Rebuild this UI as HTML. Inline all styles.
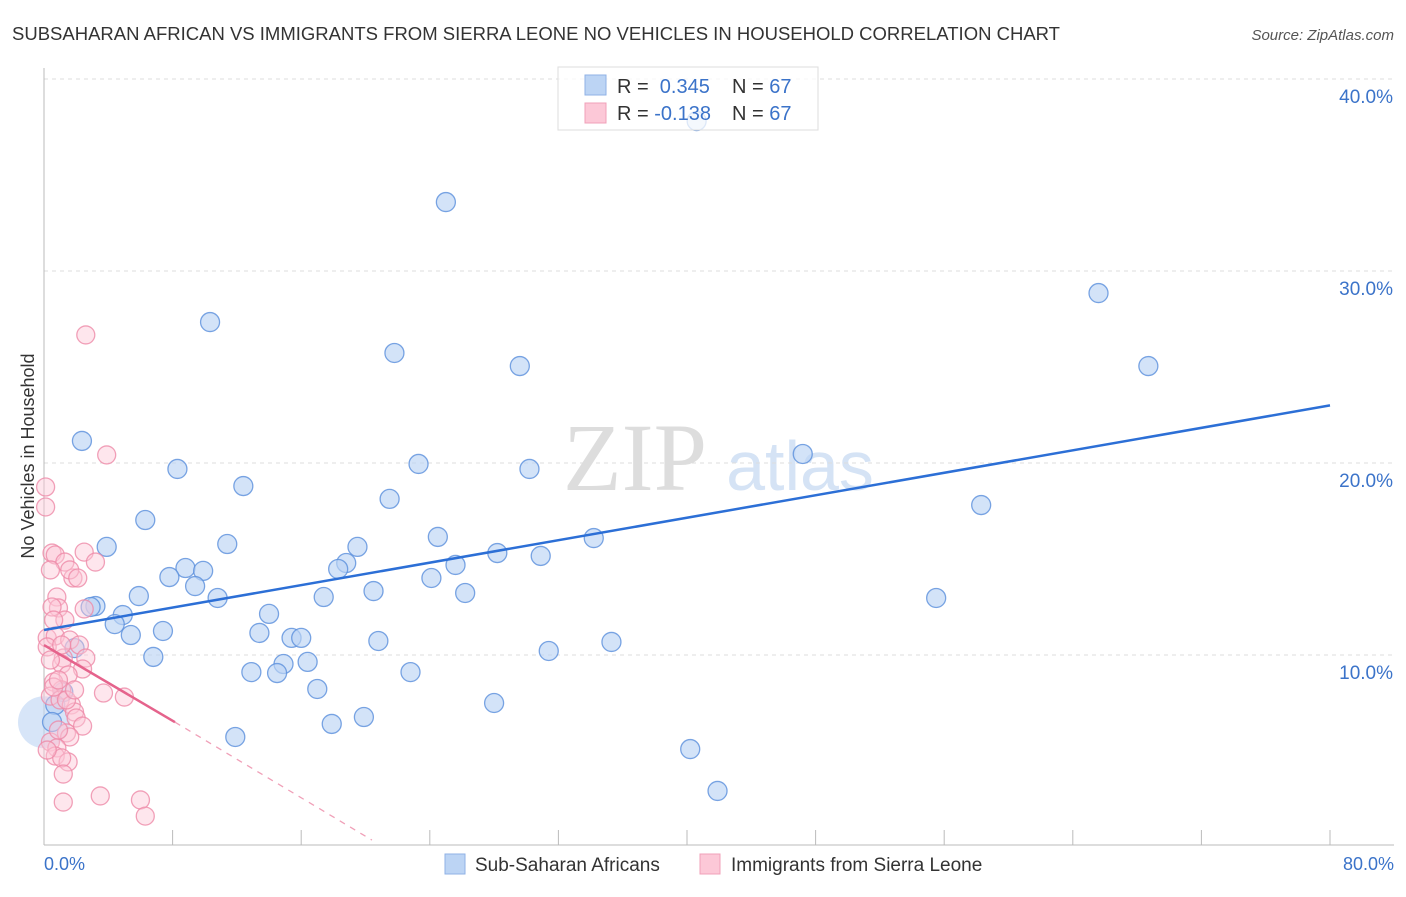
<!DOCTYPE html>
<html><head><meta charset="utf-8"><style>
body{margin:0;background:#fff;font-family:"Liberation Sans",sans-serif}
</style></head><body>
<svg width="1406" height="892" xmlns="http://www.w3.org/2000/svg">
<text x="12" y="40" font-size="18" fill="#333" textLength="1048" lengthAdjust="spacingAndGlyphs">SUBSAHARAN AFRICAN VS IMMIGRANTS FROM SIERRA LEONE NO VEHICLES IN HOUSEHOLD CORRELATION CHART</text>
<text x="1394" y="40" font-size="15" fill="#555" font-style="italic" text-anchor="end">Source: ZipAtlas.com</text>
<text x="635" y="490" font-size="96" fill="#ddd" font-family="Liberation Serif" text-anchor="middle">ZIP</text>
<text x="800" y="490" font-size="70" fill="#d5e3f5" text-anchor="middle">atlas</text>
<g id="grid"></g><g id="axes"></g><g id="pts"></g><g id="lines"></g>
<text x="34" y="456" font-size="18" fill="#333" text-anchor="middle" transform="rotate(-90 34 456)">No Vehicles in Household</text>
<text x="44" y="870" font-size="18" fill="#3b73c9">0.0%</text>
<text x="1394" y="870" font-size="18" fill="#3b73c9" text-anchor="end">80.0%</text>
<g>
<rect x="558" y="67" width="260" height="63" fill="#fff" fill-opacity="0.75" stroke="#ddd"/>
<rect x="585" y="75" width="21" height="20" fill="#bcd4f4" stroke="#8fb2e6"/>
<rect x="585" y="103" width="21" height="20" fill="#fcc8d7" stroke="#f0a0b8"/>
<text x="617" y="93" font-size="20" fill="#333">R = <tspan fill="#3b73c9">&#160;0.345</tspan><tspan x="732">N = </tspan><tspan fill="#3b73c9">67</tspan></text>
<text x="617" y="120" font-size="20" fill="#333">R = <tspan fill="#3b73c9">-0.138</tspan><tspan x="732">N = </tspan><tspan fill="#3b73c9">67</tspan></text>
</g>
<g>
<rect x="445" y="854" width="20" height="20" fill="#bcd4f4" stroke="#8fb2e6"/>
<text x="475" y="871" font-size="19" fill="#333">Sub-Saharan Africans</text>
<rect x="700" y="854" width="20" height="20" fill="#fcc8d7" stroke="#f0a0b8"/>
<text x="731" y="871" font-size="19" fill="#333">Immigrants from Sierra Leone</text>
</g>
</svg>
<script>
const blueX=[2.36,10.33,25.0,40.6,21.8,29.6,65.6,68.7,8.3,12.4,23.3,30.2,47.2,6.3,21.5,58.3,3.9,11.4,19.5,24.5,34.2,8.8,9.9,7.8,18.8,18.3,25.6,28.2,30.9,24.1,9.4,10.8,5.9,3.2,2.9,4.9,4.4,20.5,26.2,17.4,14.0,55.5,7.4,5.4,13.4,15.4,16.0,20.8,35.3,1.9,6.8,31.4,14.9,16.4,12.9,14.5,22.8,17.0,28.0,17.9,19.9,11.9,40.2,41.9,1.2,0.7,0.5];
const blueY=[21.15,27.34,33.59,37.81,25.73,25.05,28.85,25.05,19.69,18.8,19.95,19.69,20.47,17.03,18.13,17.81,15.63,15.78,15.63,16.15,16.09,14.53,14.38,14.06,14.79,14.48,14.69,15.31,15.16,14.01,13.59,12.97,13.07,12.55,12.5,12.08,11.61,13.33,13.23,13.02,12.14,12.97,11.25,11.04,11.15,10.89,10.89,10.73,10.68,10.36,9.9,10.21,9.53,9.64,9.11,9.06,9.11,8.23,7.5,6.41,6.77,5.73,5.1,2.92,8.07,7.4,6.51];
const pinkX=[2.6,3.9,0.1,0.1,0.5,0.7,2.5,1.3,0.4,1.8,3.2,1.6,2.1,0.8,0.9,0.5,2.5,1.3,0.6,0.2,0.7,1.6,0.2,2.2,1.2,1.1,2.6,2.4,1.5,0.6,1.1,0.4,1.0,1.7,3.7,5.0,1.9,2.0,2.4,1.4,1.6,0.4,0.8,0.7,1.5,1.1,1.2,1.2,3.5,6.0,6.3,0.6,0.9,1.4,0.4,0.2,0.9,1.9,1.1];
const pinkY=[26.67,20.42,18.75,17.71,15.31,15.21,15.36,14.84,14.43,14.01,14.84,14.43,14.01,13.02,12.45,12.5,12.4,11.82,11.82,10.89,10.99,10.78,10.42,10.52,9.84,9.53,9.84,9.27,8.96,8.59,8.18,7.86,7.66,7.4,8.02,7.81,7.03,6.72,6.3,5.94,5.73,5.47,5.16,4.74,4.43,4.64,3.8,2.34,2.66,2.45,1.61,8.33,8.7,7.66,9.74,5.05,6.09,8.18,10.52];
const yTicks=[10,20,30,40];
const yTickLabels=["10.0%","20.0%","30.0%","40.0%"];
const xTicks=[0,8,16,24,32,40,48,56,64,72,80];
const blueTrend=[[0,11.3],[80,23.0]];
const pinkSolid=[[0,10.52],[8.15,6.5]];
const pinkDash=[[8.15,6.5],[20.4,0.36]];
const NS='http://www.w3.org/2000/svg';
const sx=v=>44+v/80*1286, sy=v=>847-v*19.2;
function mk(tag,attrs,parent){const e=document.createElementNS(NS,tag);for(const k in attrs)e.setAttribute(k,attrs[k]);document.getElementById(parent).appendChild(e);return e;}
yTicks.forEach((t,i)=>{
 const l=mk('line',{x1:44,x2:1394,y1:sy(t),y2:sy(t),stroke:'#ddd','stroke-dasharray':'4,4'},'grid');
 
 
 const tx=mk('text',{x:1393,y:sy(t)+24,'font-size':19,fill:'#3b73c9','text-anchor':'end'},'grid');
 tx.textContent=yTickLabels[i];
 
 
});
let a=mk('line',{x1:44,x2:44,y1:68,y2:845,stroke:'#bbb'},'axes');


a=mk('line',{x1:44,x2:1394,y1:845,y2:845,stroke:'#bbb'},'axes');


xTicks.forEach(t=>{const l=mk('line',{x1:sx(t),x2:sx(t),y1:830,y2:845,stroke:'#bbb'},'axes');
 
 });
const big=mk('circle',{cx:sx(0),cy:sy(6.5),r:26,fill:'#bcd4f4','fill-opacity':0.6},'pts');


blueX.forEach((x,i)=>{const c=mk('circle',{cx:sx(x),cy:sy(blueY[i]),r:9.5,fill:'#bcd4f4','fill-opacity':0.65,stroke:'#5a8fdc','stroke-opacity':0.8,'stroke-width':1.3},'pts');
 
 });
pinkX.forEach((x,i)=>{const c=mk('circle',{cx:sx(x),cy:sy(pinkY[i]),r:9,fill:'#fcc8d7','fill-opacity':0.45,stroke:'#ee8aa8','stroke-opacity':0.8,'stroke-width':1.3},'pts');
 
 });
function ln(p,st,w,dash,name){const l=mk('line',{x1:sx(p[0][0]),y1:sy(p[0][1]),x2:sx(p[1][0]),y2:sy(p[1][1]),stroke:st,'stroke-width':w},'lines');if(dash)l.setAttribute('stroke-dasharray',dash);
 
 }
ln(blueTrend,'#2c6fd6',2.5,null,'blue-trend-line');
ln(pinkSolid,'#e5638c',2.5,null,'pink-trend-line');
ln(pinkDash,'#f0a0b8',1.3,'6,6','pink-trend-extension');
</script>
</body></html>
